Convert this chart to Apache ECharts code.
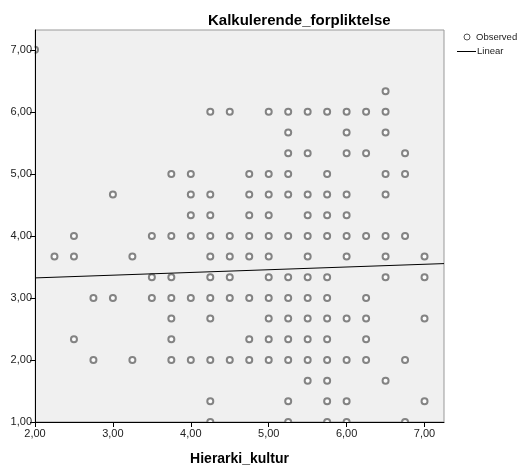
<!DOCTYPE html>
<html><head><meta charset="utf-8">
<script src="https://cdn.jsdelivr.net/npm/echarts@6/dist/echarts.min.js"></script>
<style>html,body{margin:0;padding:0;background:#fff}#c{width:525px;height:471px}</style>
</head><body><div id="c"></div>
<script>
const titleText = 'Kalkulerende_forpliktelse';
const xName = 'Hierarki_kultur';
const legendNames = ['Observed', 'Linear'];
const xTicks = [2, 3, 4, 5, 6, 7];
const yTicks = [1, 2, 3, 4, 5, 6, 7];
const yLevels = [7.00, 6.333, 6.00, 5.667, 5.333, 5.00, 4.667, 4.333, 4.00, 3.667, 3.333, 3.00, 2.667, 2.333, 2.00, 1.667, 1.333, 1.00];
const xAtLevel = [
  [2.00],
  [6.50],
  [4.25, 4.50, 5.00, 5.25, 5.50, 5.75, 6.00, 6.25, 6.50],
  [5.25, 6.00, 6.50],
  [5.25, 5.50, 6.00, 6.25, 6.75],
  [3.75, 4.00, 4.75, 5.00, 5.25, 5.75, 6.50, 6.75],
  [3.00, 4.00, 4.25, 4.75, 5.00, 5.25, 5.50, 5.75, 6.00, 6.50],
  [4.00, 4.25, 4.75, 5.00, 5.50, 5.75, 6.00],
  [2.50, 3.50, 3.75, 4.00, 4.25, 4.50, 4.75, 5.00, 5.25, 5.50, 5.75, 6.00, 6.25, 6.50, 6.75],
  [2.25, 2.50, 3.25, 4.25, 4.50, 4.75, 5.00, 5.50, 6.00, 6.50, 7.00],
  [3.50, 3.75, 4.25, 4.50, 5.00, 5.25, 5.50, 5.75, 6.50, 7.00],
  [2.75, 3.00, 3.50, 3.75, 4.00, 4.25, 4.50, 4.75, 5.00, 5.25, 5.50, 5.75, 6.25],
  [3.75, 4.25, 5.00, 5.25, 5.50, 5.75, 6.00, 6.25, 7.00],
  [2.50, 3.75, 4.75, 5.00, 5.25, 5.50, 5.75, 6.25],
  [2.75, 3.25, 3.75, 4.00, 4.25, 4.50, 4.75, 5.00, 5.25, 5.50, 5.75, 6.00, 6.25, 6.75],
  [5.50, 5.75, 6.50],
  [4.25, 5.25, 5.75, 6.00, 7.00],
  [4.25, 5.25, 5.75, 6.00, 6.75]
];
const fitIntercept = 3.235;
const fitSlope = 0.044;
const xRange = [2, 7.25];
const yRange = [1, 7.32];

const observed = [];
yLevels.forEach((y, i) => xAtLevel[i].forEach(x => observed.push([x, y])));
const linear = xRange.map(x => [x, fitIntercept + fitSlope * x]);

const fmt = v => v.toFixed(2).replace('.', ',');
const font = 'Liberation Sans, Arial, sans-serif';
const G = {left: 35, right: 81, top: 30, bottom: 49};
const W = 525, H = 471;
const chart = echarts.init(document.getElementById('c'), null, {renderer: 'canvas'});
chart.setOption({
  animation: false,
  backgroundColor: '#ffffff',
  title: {
    text: titleText, left: 203, top: 8,
    textStyle: {fontFamily: font, fontSize: 15, fontWeight: 'bold', color: '#000'}
  },
  grid: {
    left: G.left, right: G.right, top: G.top, bottom: G.bottom, show: true,
    backgroundColor: '#f0f0f0', borderColor: '#999', borderWidth: 1
  },
  xAxis: {
    type: 'value', min: xRange[0], max: xRange[1], z: 10,
    name: xName, nameLocation: 'middle', nameGap: 30,
    nameTextStyle: {fontFamily: font, fontSize: 14, fontWeight: 'bold', color: '#000'},
    axisLine: {show: true, onZero: false, lineStyle: {color: '#000', width: 1}},
    axisTick: {show: true, length: 5, customValues: xTicks, lineStyle: {color: '#000'}},
    axisLabel: {customValues: xTicks, formatter: fmt, fontFamily: font, fontSize: 11, color: '#222', margin: 6},
    splitLine: {show: false}
  },
  yAxis: {
    type: 'value', min: yRange[0], max: yRange[1], z: 10,
    axisLine: {show: true, onZero: false, lineStyle: {color: '#000', width: 1}},
    axisTick: {show: true, length: 5, customValues: yTicks, lineStyle: {color: '#000'}},
    axisLabel: {customValues: yTicks, formatter: fmt, fontFamily: font, fontSize: 11, color: '#222', margin: 3},
    splitLine: {show: false}
  },
  graphic: [
    {type: 'rect', z: 5, silent: true, shape: {x: G.left - 8, y: H - G.bottom + 0.5, width: W - G.left - G.right + 16, height: 8}, style: {fill: '#fff'}},
    {type: 'rect', z: 5, silent: true, shape: {x: G.left - 6, y: G.top, width: 5.5, height: H - G.top - G.bottom}, style: {fill: '#fff'}},
    {type: 'circle', z: 6, shape: {cx: 467, cy: 37, r: 3}, style: {fill: 'none', stroke: '#555', lineWidth: 1}},
    {type: 'text', z: 6, left: 476, top: 32, style: {text: legendNames[0], font: '9.5px ' + font, fill: '#222'}},
    {type: 'line', z: 6, shape: {x1: 457, y1: 51.5, x2: 476, y2: 51.5}, style: {stroke: '#000', lineWidth: 1}},
    {type: 'text', z: 6, left: 477, top: 46, style: {text: legendNames[1], font: '9.5px ' + font, fill: '#222'}}
  ],
  series: [
    {
      name: legendNames[0], type: 'scatter', data: observed, z: 2,
      symbol: 'emptyCircle', symbolSize: 6,
      itemStyle: {color: '#666', borderColor: '#666', borderWidth: 1.1},
      emphasis: {disabled: true}
    },
    {
      name: legendNames[1], type: 'line', data: linear, symbol: 'none', z: 3,
      lineStyle: {color: '#000', width: 1},
      itemStyle: {color: '#000'}
    }
  ]
});
</script></body></html>
